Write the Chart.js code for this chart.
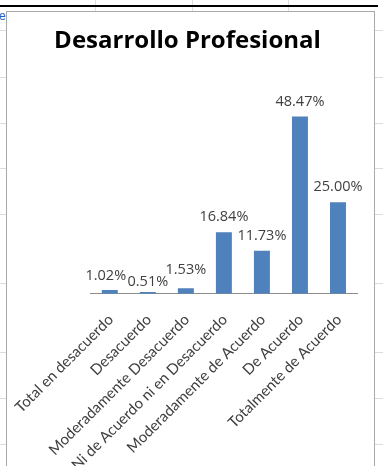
<!DOCTYPE html>
<html>
<head>
<meta charset="utf-8">
<script src="https://cdn.jsdelivr.net/npm/chart.js@4/dist/chart.umd.min.js"></script>
<style>
  html, body { margin: 0; padding: 0; background: #fff; overflow: hidden; }
  body { width: 383px; height: 466px; position: relative; }
  .hline { position: absolute; left: 0; width: 383px; height: 1px; background: #dadcdd; }
  .vline { position: absolute; top: 0; width: 1px; height: 466px; background: #dadcdd; }
  #topbar { position: absolute; left: 0; top: 5px; width: 378px; height: 2px; background: #000; }
  #cell { position: absolute; left: -1px; top: 9px; font: 12px "Liberation Sans", sans-serif; color: #1f5fbf; }
  #frame { position: absolute; left: 6px; top: 11px; width: 367px; height: 500px; overflow: hidden;
           border: 1px solid #a9a9a9; background: #fff; }
  #wrap { position: absolute; left: 0; top: 0; width: 367px; height: 500px; }
</style>
</head>
<body>
<div id="sheet"></div>
<div id="topbar"></div>
<div id="cell">e</div>
<div id="frame"><div id="wrap"><canvas id="chart"></canvas></div></div>
<script>
// survey answers and their share of responses (%)
var categorias = [
	'Total en desacuerdo',
	'Desacuerdo',
	'Moderadamente Desacuerdo',
	'Ni de Acuerdo ni en Desacuerdo',
	'Moderadamente de Acuerdo',
	'De Acuerdo',
	'Totalmente de Acuerdo'
];
var porcentajes = [1.02, 0.51, 1.53, 16.84, 11.73, 48.47, 25.00];

// small nudges so the low labels don't collide (dx, dy in px)
var ajusteEtiquetas = [[-4, 1], [0, 5], [0, -3], [0, 0], [0, 0], [0, 0], [0, 0]];

// spreadsheet grid behind the chart object
var sheet = document.getElementById('sheet');
[30, 77, 123, 168, 214, 283, 352, 398, 444].forEach(function (y) {
	var d = document.createElement('div');
	d.className = 'hline';
	d.style.top = y + 'px';
	sheet.appendChild(d);
});
[95, 192, 288].forEach(function (x) {
	var d = document.createElement('div');
	d.className = 'vline';
	d.style.left = x + 'px';
	sheet.appendChild(d);
});

var etiquetasValor = {
	id: 'etiquetasValor',
	afterDatasetsDraw: function (chart) {
		var ctx = chart.ctx;
		var meta = chart.getDatasetMeta(0);
		ctx.save();
		ctx.font = '14.5px "Open Sans", sans-serif';
		ctx.fillStyle = '#404040';
		ctx.textAlign = 'center';
		ctx.textBaseline = 'middle';
		meta.data.forEach(function (bar, i) {
			var v = chart.data.datasets[0].data[i];
			var aj = ajusteEtiquetas[i];
			ctx.fillText(v.toFixed(2) + '%', bar.x + aj[0], bar.y - 15 + aj[1]);
		});
		ctx.restore();
	}
};

var ctx = document.getElementById('chart').getContext('2d');
var chart = new Chart(ctx, {
	type: 'bar',
	data: {
		labels: categorias,
		datasets: [{
			data: porcentajes,
			backgroundColor: '#4f81bd',
			barPercentage: 0.42,
			categoryPercentage: 1
		}]
	},
	options: {
		responsive: true,
		maintainAspectRatio: false,
		animation: false,
		layout: { padding: { left: 11, right: 17, top: 0, bottom: 29 } },
		plugins: {
			legend: { display: false },
			tooltip: { enabled: false },
			title: {
				display: true,
				text: 'Desarrollo Profesional',
				color: '#000',
				font: { family: 'Open Sans', size: 24, weight: 'bold' },
				padding: { top: 15, bottom: 55 }
			}
		},
		scales: {
			x: {
				grid: { display: false },
				border: { display: true, color: '#8c8c8c', width: 1 },
				ticks: {
					color: '#404040',
					font: { family: 'Lato', size: 15 },
					minRotation: 45,
					maxRotation: 45,
					autoSkip: false,
					padding: 9,
					labelOffset: 1
				}
			},
			y: {
				display: false,
				min: 0,
				max: 50
			}
		}
	},
	plugins: [etiquetasValor]
});
</script>
</body>
</html>
